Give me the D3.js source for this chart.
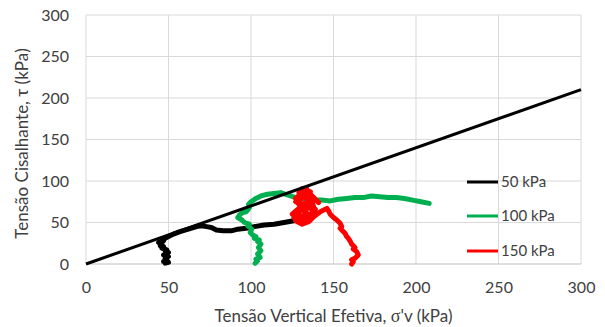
<!DOCTYPE html>
<html>
<head>
<meta charset="utf-8">
<script src="https://cdn.jsdelivr.net/npm/d3@7"></script>
<style>
  html, body { margin: 0; padding: 0; background: #fff; }
  svg { display: block; }
  text { font-family: Lato, "Open Sans", sans-serif; fill: #404040; }
</style>
</head>
<body>
<svg id="chart" width="605" height="327"></svg>
<script>
// Axis ticks
const xTicks = [0, 50, 100, 150, 200, 250, 300];
const yTicks = [0, 50, 100, 150, 200, 250, 300];

// Failure envelope (σ'v, τ)
const envelopeS = [0, 300];
const envelopeT = [0, 210];

// Stress paths, one per consolidation stress
const seriesNames = ["50 kPa", "100 kPa", "150 kPa"];
const seriesColors = ["#000000", "#00b050", "#ff0000"];

const path50S = [48, 50, 47, 49, 48, 50, 47, 48, 50, 48, 49, 46, 47, 45, 46, 44, 47, 46, 48, 50, 53, 57, 62, 67, 70, 73, 76, 79, 83, 88, 92, 97, 102, 108, 114, 120, 126, 129];
const path50T = [1, 2, 3, 5, 7, 9, 11, 12, 14, 16, 17, 19, 21, 22, 24, 26, 28, 30, 31, 33, 36, 39, 42, 45, 46, 45, 44, 41, 40, 40, 42, 43, 45, 47, 48, 50, 52, 55];

const path100S = [102.5, 104, 103, 105.5, 104, 106, 104.5, 106, 104, 105, 102, 103, 101, 99.5, 100.5, 98, 99, 96, 94.5, 92, 93, 95, 97, 98, 99, 98.5, 100, 103, 106, 110, 114, 118, 121, 124, 127, 130, 134, 138, 143, 148, 153, 158, 163, 168, 173, 178, 183, 188, 193, 198, 203, 208];
const path100T = [1, 4, 6, 8, 12, 16, 20, 24, 27, 29, 31, 33, 35, 38, 42, 46, 48, 50, 53, 56, 59, 62, 63, 65, 68, 72, 75, 79, 82, 84, 85, 86, 84, 82, 80, 79, 78, 77, 77, 76, 78, 79, 80, 80, 82, 81, 80, 80, 79, 77, 75, 73];

const path150S = [161, 162, 161, 163, 165, 164, 162, 163, 161, 160, 159, 158, 157, 155, 154, 155, 154, 152, 150, 149, 148, 147, 146, 142, 138, 135, 131, 127, 130, 136, 139, 133, 128, 125, 129, 134, 137, 132, 127, 130, 135, 141, 138, 134, 129, 131, 136, 133, 137, 131, 126, 133, 139, 135, 128, 132, 138, 134, 130, 127, 132, 136];
const path150T = [0, 3, 5, 7, 11, 15, 18, 20, 24, 28, 31, 33, 37, 41, 43, 45, 49, 53, 56, 58, 60, 64, 67, 63, 57, 51, 48, 52, 58, 60, 66, 68, 62, 60, 67, 72, 78, 80, 75, 82, 85, 74, 80, 88, 86, 91, 87, 83, 76, 72, 56, 54, 62, 70, 74, 66, 69, 90, 84, 79, 64, 58];

const pathsS = [path50S, path100S, path150S];
const pathsT = [path50T, path100T, path150T];

const svg = d3.select("#chart");
const margin = { left: 86, right: 24, top: 15, bottom: 63 };
const W = 605, H = 327;

const x = d3.scaleLinear().domain([0, 300]).range([margin.left, W - margin.right]);
const y = d3.scaleLinear().domain([0, 300]).range([H - margin.bottom, margin.top]);

// Gridlines
svg.append("g").selectAll("line.h").data(yTicks.slice(1)).join("line")
  .attr("x1", x(0)).attr("x2", x(300))
  .attr("y1", d => y(d)).attr("y2", d => y(d))
  .attr("stroke", "#d9d9d9").attr("stroke-width", 1);
svg.append("g").selectAll("line.v").data(xTicks).join("line")
  .attr("y1", y(0)).attr("y2", y(300))
  .attr("x1", d => x(d)).attr("x2", d => x(d))
  .attr("stroke", "#d9d9d9").attr("stroke-width", 1);

// Bottom axis line
svg.append("line")
  .attr("x1", x(0)).attr("x2", x(300))
  .attr("y1", y(0)).attr("y2", y(0))
  .attr("stroke", "#bfbfbf").attr("stroke-width", 1);

// Tick labels via axes
const xAxis = d3.axisBottom(x).tickValues(xTicks).tickSize(0).tickPadding(18);
const yAxis = d3.axisLeft(y).tickValues(yTicks).tickSize(0).tickPadding(17);

svg.append("g").attr("transform", `translate(0,${y(0)})`).call(xAxis)
  .call(g => g.select(".domain").remove())
  .selectAll("text").style("font-size", "16px").attr("fill", "#404040")
  .style("font-family", "Lato, 'Open Sans', sans-serif");
svg.append("g").attr("transform", `translate(${x(0)},0)`).call(yAxis)
  .call(g => g.select(".domain").remove())
  .selectAll("text").style("font-size", "16px").attr("fill", "#404040")
  .style("font-family", "Lato, 'Open Sans', sans-serif");

// Axis titles
const xt = svg.append("text")
  .attr("x", (x(0) + x(300)) / 2).attr("y", 322)
  .attr("text-anchor", "middle").style("font-size", "17px");
xt.append("tspan").text("Tensão Vertical Efetiva, ");
xt.append("tspan").style("font-family", "'Liberation Serif', 'DejaVu Serif', serif").style("font-size", "18px").text("σ");
xt.append("tspan").text("'v (kPa)");

svg.append("text")
  .attr("transform", `translate(28,${(y(0) + y(300)) / 2 + 4}) rotate(-90)`)
  .attr("text-anchor", "middle").style("font-size", "17px")
  .text("Tensão Cisalhante, τ (kPa)");

const line = d3.line().x(d => x(d[0])).y(d => y(d[1]));

// Stress paths
pathsS.forEach((s, i) => {
  const pts = s.map((v, j) => [v, pathsT[i][j]]);
  svg.append("path")
    .attr("d", line(pts))
    .attr("fill", "none")
    .attr("stroke", seriesColors[i])
    .attr("stroke-width", 5)
    .attr("stroke-linejoin", "round")
    .attr("stroke-linecap", "round");
});

// Failure envelope
svg.append("path")
  .attr("d", line(envelopeS.map((v, j) => [v, envelopeT[j]])))
  .attr("fill", "none").attr("stroke", "#000").attr("stroke-width", 3);

// Legend
const legendY = [182, 216, 251];
const lg = svg.append("g");
seriesNames.forEach((name, i) => {
  lg.append("line")
    .attr("x1", 467).attr("x2", 498)
    .attr("y1", legendY[i]).attr("y2", legendY[i])
    .attr("stroke", seriesColors[i]).attr("stroke-width", 3);
  lg.append("text")
    .attr("x", 501).attr("y", legendY[i] + 5)
    .style("font-size", "15px").attr("fill", "#404040")
    .text(name);
});
</script>
</body>
</html>
